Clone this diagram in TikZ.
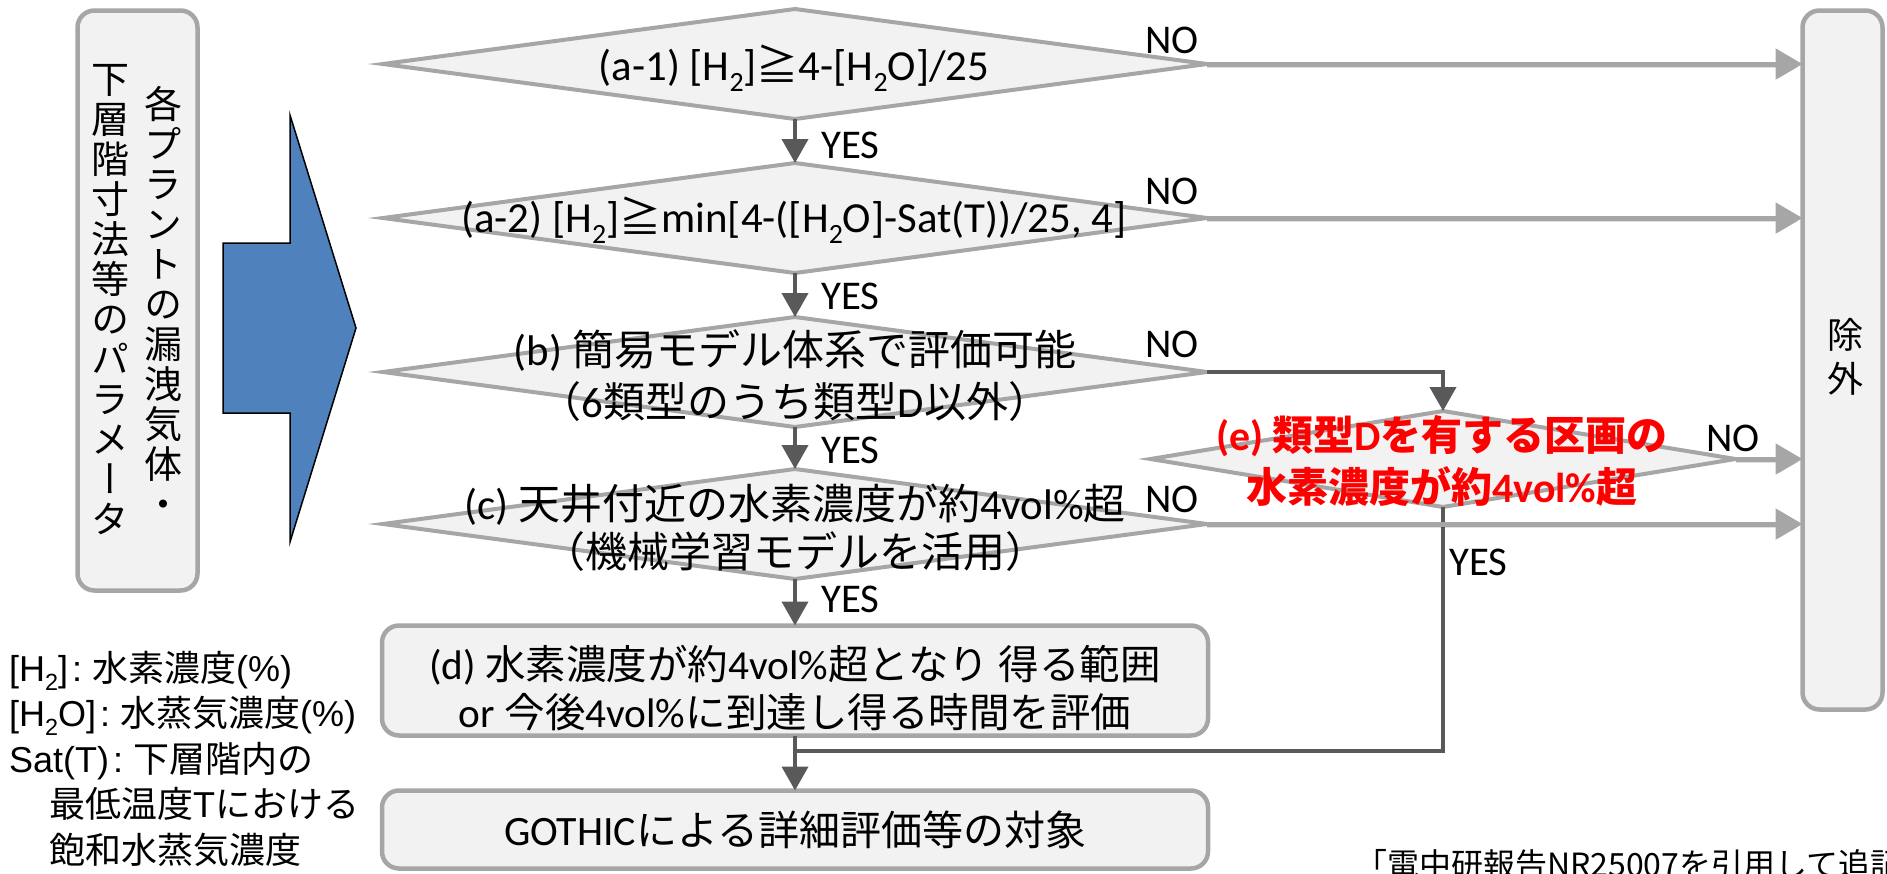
\documentclass[tikz,border=0pt]{standalone}
\usepackage{fontspec}
\setmainfont{Carlito}[Scale=1.02]
\newfontfamily\Jf{Noto Sans CJK JP}
\newfontfamily\JVf{Noto Sans CJK JP}[RawFeature=+vert]
\newfontfamily\Af{Liberation Sans}
\usetikzlibrary{shapes.geometric,arrows.meta}
\definecolor{lgray}{HTML}{A6A6A6}
\definecolor{dgray}{HTML}{595959}
\definecolor{boxfill}{HTML}{F2F2F2}
\definecolor{blueA}{HTML}{4F81BD}
\newcommand\jp[1]{{\Jf #1}}
\newcommand\lowtwo{\raisebox{-0.25em}{\scalebox{0.65}{2}}}
\newcommand\lcolon{\hspace{4pt}:\hspace{10pt}}
\begin{document}
\begin{tikzpicture}[x=1pt,y=-1pt,
  dia/.style={shape=diamond, draw=lgray, fill=boxfill, line width=4pt, inner sep=0pt, outer sep=0pt},
  rbox/.style={draw=lgray, fill=boxfill, line width=4.5pt, rounded corners=17pt, inner sep=0pt, outer sep=0pt},
  txt/.style={font=\fontsize{42}{52}\selectfont, align=center, inner sep=0pt},
  yn/.style={font=\fontsize{40}{48}\selectfont, inner sep=0pt},
  darr/.style={draw=dgray, line width=4pt, -{Triangle[length=24pt,width=26pt]}},
  dline/.style={draw=dgray, line width=4pt},
  larr/.style={draw=lgray, line width=5pt, -{Triangle[length=27pt,width=30pt]},
    preaction={draw=black, opacity=0.12, transform canvas={yshift=-3pt}}}
]
\clip (0,0) rectangle (1887,873);
\useasboundingbox (0,0) rectangle (1887,873);

% left parameter box
\node[rbox, minimum width=120pt, minimum height=580pt] (par) at (137.5,300.5) {};
\node[font=\JVf\fontsize{38}{40}\selectfont, align=center, inner sep=0pt] (parR) at (163,302)
  {各\\プ\\ラ\\ン\\ト\\の\\漏\\洩\\気\\体\\・};
\node[font=\JVf\fontsize{38}{40}\selectfont, align=center, inner sep=0pt] (parL) at (110,300)
  {下\\層\\階\\寸\\法\\等\\の\\パ\\ラ\\メ\\ー\\タ};

% blue arrow
\draw[fill=blueA, draw=black, line width=1.5pt]
  (223,243) -- (290,243) -- (290,115) -- (356,328) -- (290,542) -- (290,413) -- (223,413) -- cycle;

% diamonds
\node[dia, minimum width=824pt, minimum height=110pt] (a1) at (795,64) {};
\node[dia, minimum width=824pt, minimum height=110pt] (a2) at (795,218) {};
\node[dia, minimum width=824pt, minimum height=110pt] (b) at (795,372) {};
\node[dia, minimum width=824pt, minimum height=110pt] (c) at (795,524) {};
\node[dia, minimum width=585pt, minimum height=96pt] (e) at (1443,459) {};

% boxes
\node[rbox, minimum width=826pt, minimum height=110pt] (d) at (795,680.5) {};
\node[rbox, minimum width=826pt, minimum height=78pt] (g) at (795,829.5) {};
\node[rbox, minimum width=80pt, minimum height=699pt] (ex) at (1842.5,360) {};

% connectors
\coordinate (m) at (795,751);
\draw[darr] (a1.south) -- (a2.north);
\draw[darr] (a2.south) -- (b.north);
\draw[darr] (b.south) -- (c.north);
\draw[darr] (c.south) -- (d.north);
\draw[dline] (e.south) |- (m);
\draw[darr] (d.south) -- (g.north);
\draw[darr] (b.east) -| (e.north);
\draw[larr] (a1.east) -- (a1.east -| ex.west);
\draw[larr] (a2.east) -- (a2.east -| ex.west);
\draw[larr] (c.east) -- (c.east -| ex.west);
\draw[larr] (e.east) -- (e.east -| ex.west);

% texts
\node[txt] (a1t) at (794,68) {(a-1) [H\lowtwo]\jp{≧}4-[H\lowtwo O]/25};
\node[txt] (a2t) at (794,220) {(a-2) [H\lowtwo]\jp{≧}min[4-([H\lowtwo O]-Sat(T))/25, 4]};
\node[txt] (bt) at (795,376) {(b) \jp{簡易モデル体系で評価可能}\\\jp{（}6\jp{類型のうち類型}D\jp{以外）}};
\node[txt, font=\fontsize{42}{48}\selectfont] (ct) at (795,528) {(c) \jp{天井付近の水素濃度が約}4vol\%\jp{超}\\\jp{（機械学習モデルを活用）}};
\node[txt, font=\fontsize{40.5}{48}\selectfont] (dt) at (795,688) {(d) \jp{水素濃度が約}4vol\%\jp{超となり} \jp{得る範囲}\\or \jp{今後}4vol\%\jp{に到達し得る時間を評価}};
\node[txt, font=\fontsize{41}{52}\selectfont] (gt) at (795,830) {GOTHIC\jp{による詳細評価等の対象}};
\node[txt, text=red, font=\bfseries\fontsize{41}{52}\selectfont] (et) at (1442,461) {(e) \jp{類型}D\jp{を有する区画の}\\\jp{水素濃度が約}4vol\%\jp{超}};
\node[font=\Jf\fontsize{36}{44}\selectfont, align=center, inner sep=0pt] (ext) at (1845,357) {除\\外};

% YES / NO labels
\node[yn, anchor=west] (y1) at (821,145) {YES};
\node[yn, anchor=west] (y2) at (821,296) {YES};
\node[yn, anchor=west] (y3) at (821,450) {YES};
\node[yn, anchor=west] (y4) at (821,599) {YES};
\node[yn, anchor=west] (y5) at (1449,562) {YES};
\node[yn] (n1) at (1172,40) {NO};
\node[yn] (n2) at (1172,191) {NO};
\node[yn] (n3) at (1172,344) {NO};
\node[yn] (n4) at (1172,499) {NO};
\node[yn] (n5) at (1733,438) {NO};

% legend
\node[font=\Af\fontsize{36}{45.5}\selectfont, align=left, anchor=north west, inner sep=0pt] (leg) at (9,651)
  {{[}H\lowtwo]\lcolon\jp{水素濃度}(\%)\\
   {[}H\lowtwo O]\lcolon\jp{水蒸気濃度}(\%)\\
   Sat(T)\lcolon\jp{下層階内の}\\
   \hspace*{40pt}\jp{最低温度}T\jp{における}\\
   \hspace*{40pt}\jp{飽和水蒸気濃度}};

% footer
\node[font=\Jf\fontsize{32}{32}\selectfont, anchor=base west, inner sep=0pt] (foot) at (1355,876)
  {「電中研報告NR25007を引用して追記};
\end{tikzpicture}
\end{document}
